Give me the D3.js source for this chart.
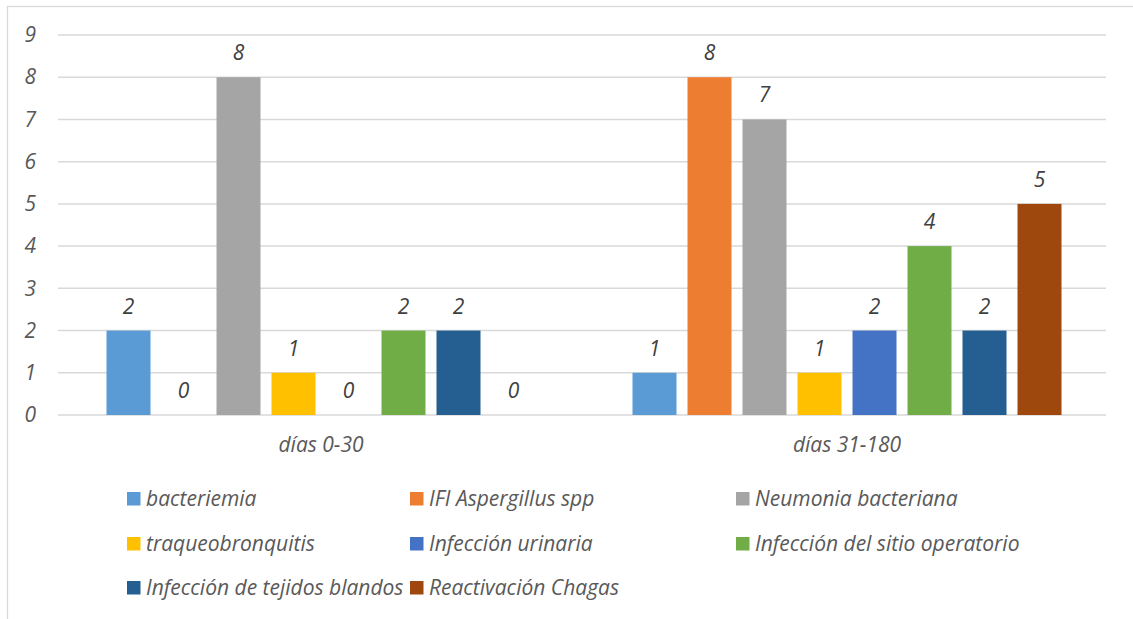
<!DOCTYPE html>
<html>
<head>
<meta charset="utf-8">
<script src="https://cdn.jsdelivr.net/npm/d3@7"></script>
<style>
  html, body { margin: 0; padding: 0; background: #fff; }
  svg { display: block; }
  text { font-family: "Open Sans", "Noto Sans", sans-serif; font-style: italic; }
</style>
</head>
<body>
<svg id="chart" width="1133" height="619"></svg>
<script>
// Periods on the x axis
const periods = ["días 0-30", "días 31-180"];
// Infection types (one bar per type in each period)
const infections = [
  "bacteriemia",
  "IFI Aspergillus spp",
  "Neumonia bacteriana",
  "traqueobronquitis",
  "Infección urinaria",
  "Infección del sitio operatorio",
  "Infección de tejidos blandos",
  "Reactivación Chagas"
];
// Case counts per infection type, in the order of `infections`
const days0to30 = [2, 0, 8, 1, 0, 2, 2, 0];
const days31to180 = [1, 8, 7, 1, 2, 4, 2, 5];
const yTicks = [0, 1, 2, 3, 4, 5, 6, 7, 8, 9];
const colors = ["#5B9BD5", "#ED7D31", "#A5A5A5", "#FFC000", "#4472C4", "#70AD47", "#255E91", "#9E480E"];

const seriesByPeriod = [days0to30, days31to180];
const fontSize = "21px";

const svg = d3.select("#chart");

// outer chart frame
svg.append("rect")
  .attr("x", 7.5).attr("y", 6.5)
  .attr("width", 1140).attr("height", 630)
  .attr("fill", "none").attr("stroke", "#d9d9d9").attr("stroke-width", 1.3);

const plot = { left: 58, right: 1110, top: 35, bottom: 415 };

const y = d3.scaleLinear().domain([0, 9]).range([plot.bottom, plot.top]);
const x0 = d3.scaleBand().domain(periods).range([plot.left, plot.right]).padding(0);
const outer = 43;
const x1 = d3.scaleBand().domain(infections)
  .range([outer, x0.bandwidth() - outer]).paddingInner(0.2).paddingOuter(0.1);

// gridlines
svg.append("g")
  .selectAll("line").data(yTicks).join("line")
  .attr("x1", plot.left).attr("x2", 1106)
  .attr("y1", d => y(d)).attr("y2", d => y(d))
  .attr("stroke", "#d9d9d9").attr("stroke-width", 1.5);

// y axis labels
const yAxis = d3.axisLeft(y).tickValues(yTicks).tickSize(0).tickPadding(0).tickFormat(d3.format("d"));
const yg = svg.append("g").attr("transform", `translate(36,0)`).call(yAxis);
yg.select(".domain").remove();
yg.selectAll("text")
  .attr("fill", "#595959").style("font-size", fontSize);
yg.attr("font-family", null).attr("font-size", null);

// x axis category labels
const xAxis = d3.axisBottom(x0).tickSize(0).tickPadding(0);
const xg = svg.append("g").attr("transform", `translate(0,${plot.bottom})`).call(xAxis);
xg.select(".domain").remove();
xg.attr("font-family", null).attr("font-size", null);
xg.selectAll("text")
  .attr("y", 37).attr("dy", null)
  .attr("fill", "#595959").style("font-size", fontSize);

// bars
const groups = svg.append("g").selectAll("g").data(periods).join("g")
  .attr("transform", d => `translate(${x0(d)},0)`);

const rows = (p, i) => infections.map((name, k) => ({ name, k, value: seriesByPeriod[i][k] }));

groups.selectAll("rect")
  .data(rows)
  .join("rect")
  .attr("x", d => x1(d.name))
  .attr("width", x1.bandwidth())
  .attr("y", d => y(d.value))
  .attr("height", d => plot.bottom - y(d.value))
  .attr("fill", d => colors[d.k]);

// value labels
groups.selectAll("text.val")
  .data(rows)
  .join("text")
  .attr("class", "val")
  .attr("x", d => x1(d.name) + x1.bandwidth() / 2)
  .attr("y", d => y(d.value) - 17)
  .attr("text-anchor", "middle")
  .attr("fill", "#404040")
  .style("font-size", fontSize)
  .text(d => d.value);

// legend
const legendCols = [127, 410, 736];
const legendRows = [499, 544, 588];
const legend = svg.append("g").selectAll("g").data(infections).join("g")
  .attr("transform", (d, i) => `translate(${legendCols[i % 3]},${legendRows[Math.floor(i / 3)]})`);
legend.append("rect")
  .attr("x", 0).attr("y", -7).attr("width", 13.5).attr("height", 13.5)
  .attr("fill", (d, i) => colors[i]);
legend.append("text")
  .attr("x", 19).attr("y", 7)
  .attr("fill", "#595959").style("font-size", fontSize)
  .text(d => d);
</script>
</body>
</html>
